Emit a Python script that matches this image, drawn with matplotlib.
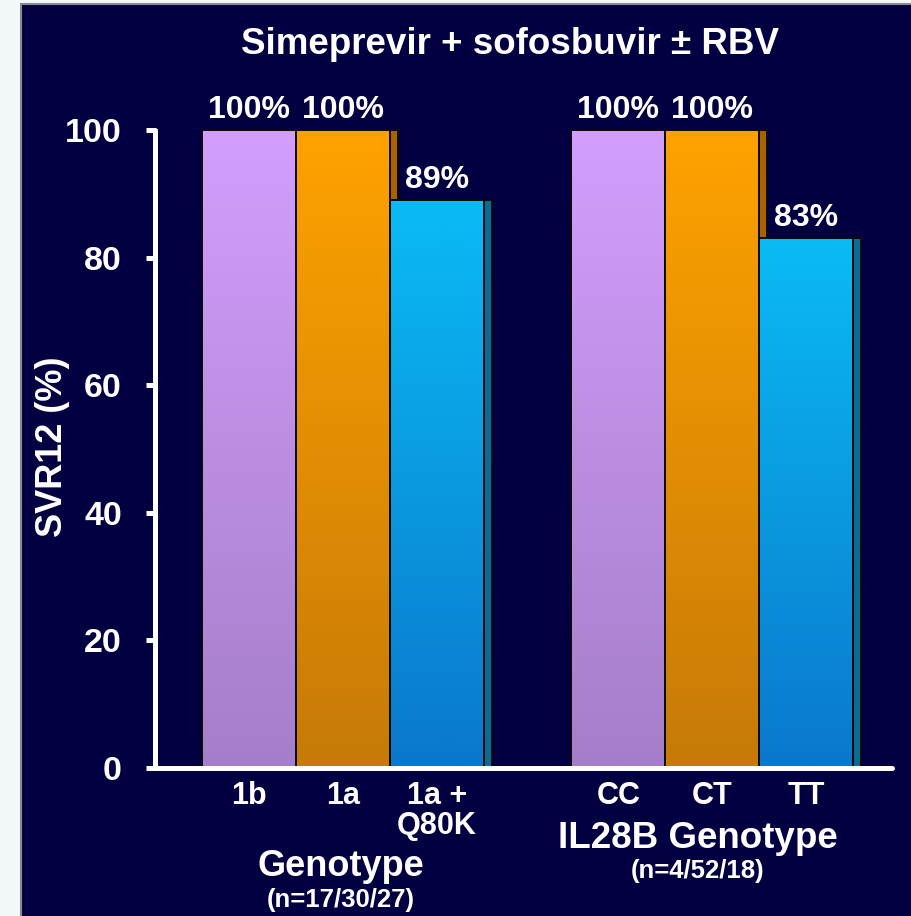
import numpy as np
import matplotlib.pyplot as plt
from matplotlib.patches import Rectangle
from matplotlib.colors import LinearSegmentedColormap

# ================================
# Data
# ================================
genotype_labels = ['1b', '1a', '1a +\nQ80K']
genotype_svr = [100, 100, 89]
il28b_labels = ['CC', 'CT', 'TT']
il28b_svr = [100, 100, 83]

labels = genotype_labels + il28b_labels
values = genotype_svr + il28b_svr
positions = [0, 1, 2, 3.93, 4.93, 5.93]

# gradient colours (bottom, top) and side colour per bar type
grad_colors = [('#a57ec9', '#d39efd'), ('#c67a08', '#ffa200'), ('#0a78cb', '#0abbf5')]
side_colors = ['#8a63b0', '#a86300', '#0a6b94']

navy = '#020040'

plt.rcParams['font.family'] = ['Liberation Sans', 'DejaVu Sans']
plt.rcParams['font.weight'] = 'bold'

fig = plt.figure(figsize=(9.12, 9.16), dpi=100)
fig.patch.set_facecolor('#f3f8fb')

# dark slide panel
fig.add_artist(Rectangle((21 / 912, -0.01), 1.0, 1 - 4 / 916 + 0.01, transform=fig.transFigure,
                         facecolor=navy, edgecolor='#8a8a8a', lw=1.5, zorder=0))

ax = fig.add_axes([154.5 / 912, 1 - 768 / 916, (892 - 154.5) / 912, 638 / 916])
ax.set_facecolor('none')

width = 1.0
depth = 0.085
grad = np.linspace(0, 1, 256).reshape(-1, 1)

for i, (x, v) in enumerate(zip(positions, values)):
    k = i % 3
    cmap = LinearSegmentedColormap.from_list('g%d' % i, grad_colors[k])
    # 3D side
    ax.add_patch(Rectangle((x + width / 2, 0), depth, v, facecolor=side_colors[k],
                           edgecolor='#0a0a0a', lw=1.4, zorder=2 + 2 * i))
    # front face with vertical gradient
    ax.imshow(grad, extent=[x - width / 2, x + width / 2, 0, v], origin='lower',
              aspect='auto', cmap=cmap, zorder=3 + 2 * i)
    ax.add_patch(Rectangle((x - width / 2, 0), width, v, facecolor='none',
                           edgecolor='#0a0a0a', lw=1.4, zorder=3 + 2 * i))
    ax.text(x, v + 0.8, '%d%%' % v, ha='center', va='bottom', color='white',
            fontsize=23, fontweight='bold')

ax.set_xlim(-1.011, 6.845)
ax.set_ylim(0, 100)

for side in ['top', 'right']:
    ax.spines[side].set_visible(False)
for side in ['left', 'bottom']:
    ax.spines[side].set_color('white')
    ax.spines[side].set_linewidth(3.6)
    ax.spines[side].set_capstyle('round')
    ax.spines[side].set_zorder(30)

ax.set_yticks([0, 20, 40, 60, 80, 100])
ax.tick_params(axis='y', colors='white', length=6.5, width=3.6, pad=17, labelsize=24.5)
ax.set_xticks(positions, labels)
ax.tick_params(axis='x', length=0, pad=9.5, labelsize=22, colors='white')
for lab in ax.get_xticklabels():
    lab.set_linespacing(1.0)
for lab in ax.get_yticklabels() + ax.get_xticklabels():
    lab.set_fontweight('bold')

# titles and group labels
fig.text(510 / 912, 1 - 45 / 916, 'Simeprevir + sofosbuvir ± RBV', ha='center', va='center',
         color='white', fontsize=26.5, fontweight='bold')
fig.text(53 / 912, 1 - 447 / 916, 'SVR12 (%)', ha='center', va='center', rotation=90,
         color='white', fontsize=26, fontweight='bold')
fig.text(341 / 912, 1 - 866 / 916, 'Genotype', ha='center', va='center',
         color='white', fontsize=26, fontweight='bold')
fig.text(341 / 912, 1 - 900 / 916, '(n=17/30/27)', ha='center', va='center',
         color='white', fontsize=18.5, fontweight='bold')
fig.text(698 / 912, 1 - 838 / 916, 'IL28B Genotype', ha='center', va='center',
         color='white', fontsize=26.5, fontweight='bold')
fig.text(698 / 912, 1 - 871 / 916, '(n=4/52/18)', ha='center', va='center',
         color='white', fontsize=18.5, fontweight='bold')

fig.savefig('out.png', dpi=100, facecolor=fig.get_facecolor())
